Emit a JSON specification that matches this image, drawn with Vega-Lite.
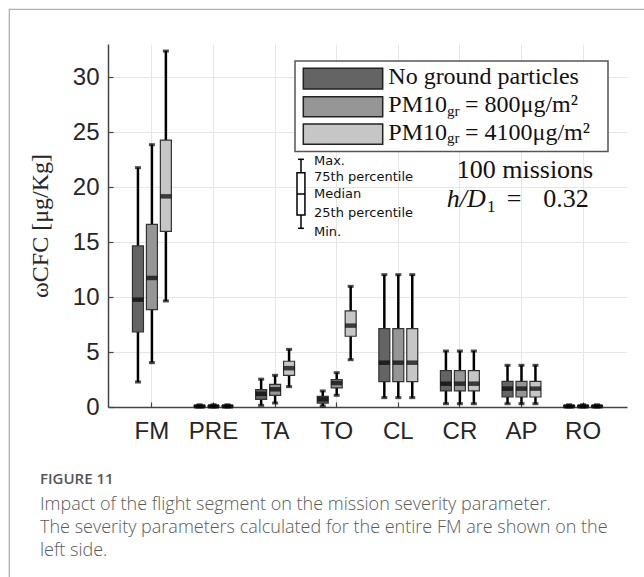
{
  "$schema": "https://vega.github.io/schema/vega-lite/v6.json",
  "autosize": "none",
  "width": 519,
  "height": 363,
  "padding": {"left": 108, "top": 44, "right": 17, "bottom": 170},
  "background": "white",
  "config": {"view": {"stroke": null}},
  "data": {"values": [
    {"cat": "FM", "g": "none", "min": 2.27, "q1": 6.82, "med": 9.76, "q3": 14.64, "max": 21.76},
    {"cat": "FM", "g": "800", "min": 4.03, "q1": 8.85, "med": 11.73, "q3": 16.6, "max": 23.85},
    {"cat": "FM", "g": "4100", "min": 9.64, "q1": 15.97, "med": 19.15, "q3": 24.27, "max": 32.36},
    {"cat": "PRE", "g": "none", "min": 0, "q1": 0, "med": 0.06, "q3": 0.12, "max": 0.2},
    {"cat": "PRE", "g": "800", "min": 0, "q1": 0, "med": 0.06, "q3": 0.12, "max": 0.2},
    {"cat": "PRE", "g": "4100", "min": 0, "q1": 0, "med": 0.06, "q3": 0.12, "max": 0.2},
    {"cat": "TA", "g": "none", "min": 0.15, "q1": 0.7, "med": 1.2, "q3": 1.58, "max": 2.53},
    {"cat": "TA", "g": "800", "min": 0.36, "q1": 1.06, "med": 1.61, "q3": 2.06, "max": 2.88},
    {"cat": "TA", "g": "4100", "min": 1.85, "q1": 2.87, "med": 3.53, "q3": 4.16, "max": 5.24},
    {"cat": "TO", "g": "none", "min": 0.09, "q1": 0.36, "med": 0.7, "q3": 0.97, "max": 1.46},
    {"cat": "TO", "g": "800", "min": 1.06, "q1": 1.73, "med": 2.18, "q3": 2.49, "max": 3.12},
    {"cat": "TO", "g": "4100", "min": 4.3, "q1": 6.43, "med": 7.4, "q3": 8.73, "max": 10.97},
    {"cat": "CL", "g": "none", "min": 0.85, "q1": 2.3, "med": 4.03, "q3": 7.12, "max": 12.03},
    {"cat": "CL", "g": "800", "min": 0.85, "q1": 2.3, "med": 4.03, "q3": 7.12, "max": 12.03},
    {"cat": "CL", "g": "4100", "min": 0.85, "q1": 2.3, "med": 4.03, "q3": 7.12, "max": 12.03},
    {"cat": "CR", "g": "none", "min": 0.3, "q1": 1.46, "med": 2.12, "q3": 3.31, "max": 5.09},
    {"cat": "CR", "g": "800", "min": 0.3, "q1": 1.46, "med": 2.12, "q3": 3.31, "max": 5.09},
    {"cat": "CR", "g": "4100", "min": 0.3, "q1": 1.46, "med": 2.12, "q3": 3.31, "max": 5.09},
    {"cat": "AP", "g": "none", "min": 0.3, "q1": 0.91, "med": 1.67, "q3": 2.33, "max": 3.79},
    {"cat": "AP", "g": "800", "min": 0.3, "q1": 0.91, "med": 1.67, "q3": 2.33, "max": 3.79},
    {"cat": "AP", "g": "4100", "min": 0.3, "q1": 0.91, "med": 1.67, "q3": 2.33, "max": 3.79},
    {"cat": "RO", "g": "none", "min": 0, "q1": 0, "med": 0.06, "q3": 0.12, "max": 0.2},
    {"cat": "RO", "g": "800", "min": 0, "q1": 0, "med": 0.06, "q3": 0.12, "max": 0.2},
    {"cat": "RO", "g": "4100", "min": 0, "q1": 0, "med": 0.06, "q3": 0.12, "max": 0.2}
  ]},
  "resolve": {"scale": {"x": "independent"}},
  "layer": [
    {
      "encoding": {
        "x": {"field": "cat", "type": "nominal", "sort": ["FM", "PRE", "TA", "TO", "CL", "CR", "AP", "RO"],
          "scale": {"paddingInner": 0.32, "paddingOuter": 0.373},
          "axis": {"title": null, "labelAngle": 0, "labelFont": "Liberation Sans", "labelFontSize": 24, "labelColor": "#262626",
            "labelPadding": 17, "domainColor": "#444444", "domainWidth": 1.5, "tickColor": "#444444", "tickSize": -5, "tickWidth": 1.2,
            "grid": true, "gridColor": "#e6e6e6", "gridWidth": 1}},
        "xOffset": {"field": "g", "type": "nominal", "scale": {"domain": ["none", "800", "4100"], "paddingInner": 0, "paddingOuter": 0}}
      },
      "layer": [
        {"mark": {"type": "rule", "color": "black", "strokeWidth": 2.5},
          "encoding": {
            "y": {"field": "min", "type": "quantitative", "scale": {"domain": [0, 33], "nice": false},
              "axis": {"values": [0, 5, 10, 15, 20, 25, 30], "title": "ωCFC [μg/Kg]", "titleFont": "Liberation Serif", "titleFontSize": 24,
                "titleFontWeight": "normal", "titleColor": "#262626", "titlePadding": 20,
                "labelFont": "Liberation Sans", "labelFontSize": 24, "labelColor": "#262626", "labelPadding": 14,
                "domainColor": "#444444", "domainWidth": 1.5, "tickColor": "#444444", "tickSize": -5, "tickWidth": 1.2,
                "grid": true, "gridColor": "#e6e6e6", "gridWidth": 1}},
            "y2": {"field": "max"}
          }},
        {"mark": {"type": "bar", "width": 11, "stroke": "#333333", "strokeWidth": 1.2},
          "encoding": {
            "y": {"field": "q1", "type": "quantitative", "scale": {"domain": [0, 33], "nice": false}},
            "y2": {"field": "q3"},
            "color": {"field": "g", "type": "nominal", "scale": {"domain": ["none", "800", "4100"], "range": ["#646464", "#969696", "#c6c6c6"]}, "legend": null}
          }},
        {"mark": {"type": "tick", "orient": "horizontal", "size": 11, "thickness": 4.5, "color": "black"},
          "encoding": {"y": {"field": "med", "type": "quantitative", "scale": {"domain": [0, 33], "nice": false}}}},
        {"mark": {"type": "tick", "orient": "horizontal", "size": 6, "thickness": 3, "color": "black"},
          "encoding": {"y": {"field": "min", "type": "quantitative", "scale": {"domain": [0, 33], "nice": false}}}},
        {"mark": {"type": "tick", "orient": "horizontal", "size": 6, "thickness": 3, "color": "black"},
          "encoding": {"y": {"field": "max", "type": "quantitative", "scale": {"domain": [0, 33], "nice": false}}}}
      ]
    },
    {
      "data": {"values": [{}]},
      "layer": [
        {"mark": {"type": "rect", "fillOpacity": 0, "stroke": "#b0b0b0", "strokeWidth": 1.3},
          "encoding": {
            "x": {"datum": -2.3154, "type": "quantitative", "scale": {"domain": [-0.7131, 7.7122], "nice": false, "zero": false}, "axis": null},
            "x2": {"datum": 8.4},
            "y": {"datum": 36.155, "type": "quantitative", "scale": {"domain": [0, 33], "nice": false}},
            "y2": {"datum": -17}
          }},
        {"mark": {"type": "rect", "fill": "white", "stroke": "#555555", "strokeWidth": 1.5},
          "encoding": {
            "x": {"datum": 2.3226, "type": "quantitative", "scale": {"domain": [-0.7131, 7.7122], "nice": false, "zero": false}, "axis": null},
            "x2": {"datum": 7.4037},
            "y": {"datum": 31.455, "type": "quantitative", "scale": {"domain": [0, 33], "nice": false}},
            "y2": {"datum": 23.227}
          }},
        {"mark": {"type": "rect", "fill": "#646464", "stroke": "#222222", "strokeWidth": 1.5},
          "encoding": {
            "x": {"datum": 2.4573, "type": "quantitative", "scale": {"domain": [-0.7131, 7.7122], "nice": false, "zero": false}, "axis": null},
            "x2": {"datum": 3.7463},
            "y": {"datum": 30.791, "type": "quantitative", "scale": {"domain": [0, 33], "nice": false}},
            "y2": {"datum": 28.909}
          }},
        {"mark": {"type": "rect", "fill": "#969696", "stroke": "#222222", "strokeWidth": 1.5},
          "encoding": {
            "x": {"datum": 2.4573, "type": "quantitative", "scale": {"domain": [-0.7131, 7.7122], "nice": false, "zero": false}, "axis": null},
            "x2": {"datum": 3.7463},
            "y": {"datum": 28.209, "type": "quantitative", "scale": {"domain": [0, 33], "nice": false}},
            "y2": {"datum": 26.391}
          }},
        {"mark": {"type": "rect", "fill": "#c6c6c6", "stroke": "#222222", "strokeWidth": 1.5},
          "encoding": {
            "x": {"datum": 2.4573, "type": "quantitative", "scale": {"domain": [-0.7131, 7.7122], "nice": false, "zero": false}, "axis": null},
            "x2": {"datum": 3.7463},
            "y": {"datum": 25.727, "type": "quantitative", "scale": {"domain": [0, 33], "nice": false}},
            "y2": {"datum": 23.882}
          }},
        {"mark": {"type": "text", "text": "No ground particles", "font": "Liberation Serif", "fontSize": 24, "align": "left", "baseline": "alphabetic", "color": "#111111"},
          "encoding": {
            "x": {"datum": 3.8372, "type": "quantitative", "scale": {"domain": [-0.7131, 7.7122], "nice": false, "zero": false}, "axis": null},
            "y": {"datum": 29.336, "type": "quantitative", "scale": {"domain": [0, 33], "nice": false}}
          }},
        {"mark": {"type": "text", "text": "PM10", "font": "Liberation Serif", "fontSize": 24, "align": "left", "baseline": "alphabetic", "color": "#111111"},
          "encoding": {
            "x": {"datum": 3.8372, "type": "quantitative", "scale": {"domain": [-0.7131, 7.7122], "nice": false, "zero": false}, "axis": null},
            "y": {"datum": 26.791, "type": "quantitative", "scale": {"domain": [0, 33], "nice": false}}
          }},
        {"mark": {"type": "text", "text": "gr", "font": "Liberation Serif", "fontSize": 15, "align": "left", "baseline": "alphabetic", "color": "#111111"},
          "encoding": {
            "x": {"datum": 4.7901, "type": "quantitative", "scale": {"domain": [-0.7131, 7.7122], "nice": false, "zero": false}, "axis": null},
            "y": {"datum": 26.473, "type": "quantitative", "scale": {"domain": [0, 33], "nice": false}}
          }},
        {"mark": {"type": "text", "text": "= 800μg/m²", "font": "Liberation Serif", "fontSize": 24, "align": "left", "baseline": "alphabetic", "color": "#111111"},
          "encoding": {
            "x": {"datum": 5.0823, "type": "quantitative", "scale": {"domain": [-0.7131, 7.7122], "nice": false, "zero": false}, "axis": null},
            "y": {"datum": 26.791, "type": "quantitative", "scale": {"domain": [0, 33], "nice": false}}
          }},
        {"mark": {"type": "text", "text": "PM10", "font": "Liberation Serif", "fontSize": 24, "align": "left", "baseline": "alphabetic", "color": "#111111"},
          "encoding": {
            "x": {"datum": 3.8372, "type": "quantitative", "scale": {"domain": [-0.7131, 7.7122], "nice": false, "zero": false}, "axis": null},
            "y": {"datum": 24.273, "type": "quantitative", "scale": {"domain": [0, 33], "nice": false}}
          }},
        {"mark": {"type": "text", "text": "gr", "font": "Liberation Serif", "fontSize": 15, "align": "left", "baseline": "alphabetic", "color": "#111111"},
          "encoding": {
            "x": {"datum": 4.7901, "type": "quantitative", "scale": {"domain": [-0.7131, 7.7122], "nice": false, "zero": false}, "axis": null},
            "y": {"datum": 23.955, "type": "quantitative", "scale": {"domain": [0, 33], "nice": false}}
          }},
        {"mark": {"type": "text", "text": "= 4100μg/m²", "font": "Liberation Serif", "fontSize": 24, "align": "left", "baseline": "alphabetic", "color": "#111111"},
          "encoding": {
            "x": {"datum": 5.0823, "type": "quantitative", "scale": {"domain": [-0.7131, 7.7122], "nice": false, "zero": false}, "axis": null},
            "y": {"datum": 24.273, "type": "quantitative", "scale": {"domain": [0, 33], "nice": false}}
          }},
        {"mark": {"type": "text", "text": "100 missions", "font": "Liberation Serif", "fontSize": 26, "align": "left", "baseline": "alphabetic", "color": "#111111"},
          "encoding": {
            "x": {"datum": 4.9476, "type": "quantitative", "scale": {"domain": [-0.7131, 7.7122], "nice": false, "zero": false}, "axis": null},
            "y": {"datum": 20.791, "type": "quantitative", "scale": {"domain": [0, 33], "nice": false}}
          }},
        {"mark": {"type": "text", "text": "h/D", "font": "Liberation Serif", "fontStyle": "italic", "fontSize": 26, "align": "left", "baseline": "alphabetic", "color": "#111111"},
          "encoding": {
            "x": {"datum": 4.7853, "type": "quantitative", "scale": {"domain": [-0.7131, 7.7122], "nice": false, "zero": false}, "axis": null},
            "y": {"datum": 18.209, "type": "quantitative", "scale": {"domain": [0, 33], "nice": false}}
          }},
        {"mark": {"type": "text", "text": "1", "font": "Liberation Serif", "fontSize": 17, "align": "left", "baseline": "alphabetic", "color": "#111111"},
          "encoding": {
            "x": {"datum": 5.4395, "type": "quantitative", "scale": {"domain": [-0.7131, 7.7122], "nice": false, "zero": false}, "axis": null},
            "y": {"datum": 17.755, "type": "quantitative", "scale": {"domain": [0, 33], "nice": false}}
          }},
        {"mark": {"type": "text", "text": "=", "font": "Liberation Serif", "fontSize": 26, "align": "left", "baseline": "alphabetic", "color": "#111111"},
          "encoding": {
            "x": {"datum": 5.7593, "type": "quantitative", "scale": {"domain": [-0.7131, 7.7122], "nice": false, "zero": false}, "axis": null},
            "y": {"datum": 18.209, "type": "quantitative", "scale": {"domain": [0, 33], "nice": false}}
          }},
        {"mark": {"type": "text", "text": "0.32", "font": "Liberation Serif", "fontSize": 26, "align": "left", "baseline": "alphabetic", "color": "#111111"},
          "encoding": {
            "x": {"datum": 6.3534, "type": "quantitative", "scale": {"domain": [-0.7131, 7.7122], "nice": false, "zero": false}, "axis": null},
            "y": {"datum": 18.209, "type": "quantitative", "scale": {"domain": [0, 33], "nice": false}}
          }},
        {"mark": {"type": "rule", "color": "black", "strokeWidth": 1.5},
          "encoding": {
            "x": {"datum": 2.42, "type": "quantitative", "scale": {"domain": [-0.7131, 7.7122], "nice": false, "zero": false}, "axis": null},
            "y": {"datum": 22.518, "type": "quantitative", "scale": {"domain": [0, 33], "nice": false}},
            "y2": {"datum": 16.245}
          }},
        {"mark": {"type": "rect", "fill": "white", "stroke": "black", "strokeWidth": 1.5},
          "encoding": {
            "x": {"datum": 2.355, "type": "quantitative", "scale": {"domain": [-0.7131, 7.7122], "nice": false, "zero": false}, "axis": null},
            "x2": {"datum": 2.4838},
            "y": {"datum": 21.3, "type": "quantitative", "scale": {"domain": [0, 33], "nice": false}},
            "y2": {"datum": 17.455}
          }},
        {"mark": {"type": "rule", "color": "black", "strokeWidth": 1.5},
          "encoding": {
            "x": {"datum": 2.355, "type": "quantitative", "scale": {"domain": [-0.7131, 7.7122], "nice": false, "zero": false}, "axis": null},
            "x2": {"datum": 2.4838},
            "y": {"datum": 19.364, "type": "quantitative", "scale": {"domain": [0, 33], "nice": false}}
          }},
        {"mark": {"type": "rule", "color": "black", "strokeWidth": 1.5},
          "encoding": {
            "x": {"datum": 2.3712, "type": "quantitative", "scale": {"domain": [-0.7131, 7.7122], "nice": false, "zero": false}, "axis": null},
            "x2": {"datum": 2.4675},
            "y": {"datum": 22.518, "type": "quantitative", "scale": {"domain": [0, 33], "nice": false}}
          }},
        {"mark": {"type": "rule", "color": "black", "strokeWidth": 1.5},
          "encoding": {
            "x": {"datum": 2.3712, "type": "quantitative", "scale": {"domain": [-0.7131, 7.7122], "nice": false, "zero": false}, "axis": null},
            "x2": {"datum": 2.4675},
            "y": {"datum": 16.245, "type": "quantitative", "scale": {"domain": [0, 33], "nice": false}}
          }},
        {"mark": {"type": "text", "text": "Max.", "font": "DejaVu Sans", "fontSize": 13, "align": "left", "baseline": "middle", "color": "#111111"},
          "encoding": {
            "x": {"datum": 2.631, "type": "quantitative", "scale": {"domain": [-0.7131, 7.7122], "nice": false, "zero": false}, "axis": null},
            "y": {"datum": 22.35, "type": "quantitative", "scale": {"domain": [0, 33], "nice": false}}
          }},
        {"mark": {"type": "text", "text": "75th percentile", "font": "DejaVu Sans", "fontSize": 13, "align": "left", "baseline": "middle", "color": "#111111"},
          "encoding": {
            "x": {"datum": 2.631, "type": "quantitative", "scale": {"domain": [-0.7131, 7.7122], "nice": false, "zero": false}, "axis": null},
            "y": {"datum": 20.95, "type": "quantitative", "scale": {"domain": [0, 33], "nice": false}}
          }},
        {"mark": {"type": "text", "text": "Median", "font": "DejaVu Sans", "fontSize": 13, "align": "left", "baseline": "middle", "color": "#111111"},
          "encoding": {
            "x": {"datum": 2.631, "type": "quantitative", "scale": {"domain": [-0.7131, 7.7122], "nice": false, "zero": false}, "axis": null},
            "y": {"datum": 19.364, "type": "quantitative", "scale": {"domain": [0, 33], "nice": false}}
          }},
        {"mark": {"type": "text", "text": "25th percentile", "font": "DejaVu Sans", "fontSize": 13, "align": "left", "baseline": "middle", "color": "#111111"},
          "encoding": {
            "x": {"datum": 2.631, "type": "quantitative", "scale": {"domain": [-0.7131, 7.7122], "nice": false, "zero": false}, "axis": null},
            "y": {"datum": 17.636, "type": "quantitative", "scale": {"domain": [0, 33], "nice": false}}
          }},
        {"mark": {"type": "text", "text": "Min.", "font": "DejaVu Sans", "fontSize": 13, "align": "left", "baseline": "middle", "color": "#111111"},
          "encoding": {
            "x": {"datum": 2.631, "type": "quantitative", "scale": {"domain": [-0.7131, 7.7122], "nice": false, "zero": false}, "axis": null},
            "y": {"datum": 15.936, "type": "quantitative", "scale": {"domain": [0, 33], "nice": false}}
          }},
        {"mark": {"type": "text", "text": "FIGURE 11", "font": "Open Sans", "fontSize": 15, "fontWeight": 600, "align": "left", "baseline": "middle", "color": "#555555"},
          "encoding": {
            "x": {"datum": -1.817, "type": "quantitative", "scale": {"domain": [-0.7131, 7.7122], "nice": false, "zero": false}, "axis": null},
            "y": {"datum": -6.545, "type": "quantitative", "scale": {"domain": [0, 33], "nice": false}}
          }},
        {"mark": {"type": "text", "text": "Impact of the flight segment on the mission severity parameter.", "font": "Open Sans", "fontSize": 18, "fontWeight": 300, "align": "left", "baseline": "middle", "color": "#5a5a5a"},
          "encoding": {
            "x": {"datum": -1.817, "type": "quantitative", "scale": {"domain": [-0.7131, 7.7122], "nice": false, "zero": false}, "axis": null},
            "y": {"datum": -8.909, "type": "quantitative", "scale": {"domain": [0, 33], "nice": false}}
          }},
        {"mark": {"type": "text", "text": "The severity parameters calculated for the entire FM are shown on the", "font": "Open Sans", "fontSize": 18, "fontWeight": 300, "align": "left", "baseline": "middle", "color": "#5a5a5a"},
          "encoding": {
            "x": {"datum": -1.817, "type": "quantitative", "scale": {"domain": [-0.7131, 7.7122], "nice": false, "zero": false}, "axis": null},
            "y": {"datum": -11.0, "type": "quantitative", "scale": {"domain": [0, 33], "nice": false}}
          }},
        {"mark": {"type": "text", "text": "left side.", "font": "Open Sans", "fontSize": 18, "fontWeight": 300, "align": "left", "baseline": "middle", "color": "#5a5a5a"},
          "encoding": {
            "x": {"datum": -1.817, "type": "quantitative", "scale": {"domain": [-0.7131, 7.7122], "nice": false, "zero": false}, "axis": null},
            "y": {"datum": -13.091, "type": "quantitative", "scale": {"domain": [0, 33], "nice": false}}
          }}
      ]
    }
  ]
}
